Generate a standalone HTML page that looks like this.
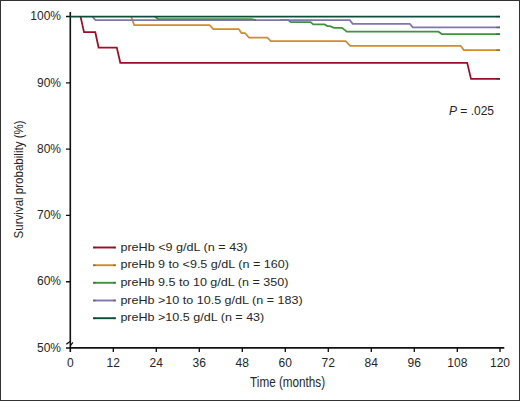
<!DOCTYPE html>
<html>
<head>
<meta charset="utf-8">
<style>
html,body{margin:0;padding:0;background:#fff;}
body{width:520px;height:401px;overflow:hidden;}
svg{display:block;}
text{font-family:"Liberation Sans",sans-serif;fill:#262626;}
</style>
</head>
<body>
<svg width="520" height="401" viewBox="0 0 520 401">
<rect x="0" y="0" width="520" height="401" fill="#fff"/>
<rect x="0.5" y="0.5" width="519" height="400" fill="none" stroke="#333" stroke-width="1"/>

<!-- axes -->
<g stroke="#111" stroke-width="1.6" fill="none">
<path d="M70.3,12 V352"/>
<path d="M69.5,347.9 H504.3"/>
</g>
<g stroke="#111" stroke-width="1.35" fill="none">
<path d="M66,16.5 H70 M66,82.8 H70 M66,149.1 H70 M66,215.4 H70 M66,281.7 H70 M66,348 H70"/>
<path d="M113.3,348 V352 M156.3,348 V352 M199.3,348 V352 M242.3,348 V352 M285.3,348 V352 M328.3,348 V352 M371.3,348 V352 M414.3,348 V352 M457.3,348 V352 M500,348 V352"/>
<path d="M66.3,344.3 L70,341.5 M70.4,345.6 L72.9,342.4" stroke-width="1.3"/>
</g>

<!-- y labels -->
<g font-size="12" text-anchor="end">
<text x="61" y="20.3">100%</text>
<text x="61" y="86.5">90%</text>
<text x="61" y="152.8">80%</text>
<text x="61" y="219.1">70%</text>
<text x="61" y="285.4">60%</text>
<text x="61" y="351.7">50%</text>
</g>
<!-- x labels -->
<g font-size="12" text-anchor="middle">
<text x="70.3" y="367.4">0</text>
<text x="113.3" y="367.4">12</text>
<text x="156.3" y="367.4">24</text>
<text x="199.3" y="367.4">36</text>
<text x="242.3" y="367.4">48</text>
<text x="285.3" y="367.4">60</text>
<text x="328.3" y="367.4">72</text>
<text x="371.3" y="367.4">84</text>
<text x="414.3" y="367.4">96</text>
<text x="457.3" y="367.4">108</text>
<text x="500" y="367.4">120</text>
</g>
<text x="287.6" y="386.8" font-size="13.8" text-anchor="middle" textLength="75" lengthAdjust="spacingAndGlyphs">Time (months)</text>
<text transform="translate(22.7,179.4) rotate(-90)" font-size="13.5" text-anchor="middle" textLength="118" lengthAdjust="spacingAndGlyphs">Survival probability (%)</text>

<text x="449" y="115" font-size="12"><tspan font-style="italic">P</tspan> = .025</text>

<!-- curves -->
<g fill="none" stroke-width="1.75" stroke-linejoin="miter">
<path stroke="#9C0E28" d="M80.6,16.7 L84,32.2 H95.3 L98.6,47.5 H116.8 L120.3,62.8 H467.2 L471,78.9 H500"/>
<path stroke="#D28C26" d="M131.2,16.7 L134.2,25 H209.5 L213.3,29.1 H238.7 L241.5,33 H245 L249,37.5 H267.3 L270.8,41.2 H345.6 L350.3,45.8 H460.6 L463.8,50 H500"/>
<path stroke="#3E943E" d="M280,20.2 H288.5 L291,22.2 H310.6 L313.2,24.4 H324.5 L327.5,26.1 H330 L334,27.9 H342 L346.8,31.7 H438.4 L441.8,34 H500"/>
<path stroke="#8076AC" d="M92.4,16.7 L95.5,20.1 H349.8 L352.7,23.9 H409.8 L412.9,27.4 H500"/>
<path stroke="#3E943E" d="M155,16.7 L158.3,19.0 H252 L255,20.1 H256"/>
<path stroke="#0C4E3A" d="M70,16.7 H500"/>
</g>
<g fill="none" stroke-width="1.75" stroke="#222" opacity="0.3">
<path d="M496.3,16.7 H500 M496.3,27.4 H500 M496.3,34 H500 M496.3,50 H500 M496.3,78.9 H500"/>
</g>

<!-- legend -->
<g stroke-width="1.9">
<path stroke="#9C0E28" d="M93.1,247.5 H115.8"/>
<path stroke="#D28C26" d="M93.1,265.2 H115.8"/>
<path stroke="#3E943E" d="M93.1,282.8 H115.8"/>
<path stroke="#8076AC" d="M93.1,300.5 H115.8"/>
<path stroke="#0C4E3A" d="M93.1,318.2 H115.8"/>
</g>
<g fill="none" stroke-width="1.9" stroke="#222" opacity="0.3">
<path d="M93.1,247.5 H95.5 M113.5,247.5 H115.8"/>
<path d="M93.1,265.2 H95.5 M113.5,265.2 H115.8"/>
<path d="M93.1,282.8 H95.5 M113.5,282.8 H115.8"/>
<path d="M93.1,300.5 H95.5 M113.5,300.5 H115.8"/>
<path d="M93.1,318.2 H95.5 M113.5,318.2 H115.8"/>
</g>
<g font-size="11.6">
<text x="120.4" y="250.6" textLength="127.0" lengthAdjust="spacingAndGlyphs">preHb &lt;9 g/dL (n = 43)</text>
<text x="120.4" y="268.3" textLength="168.6" lengthAdjust="spacingAndGlyphs">preHb 9 to &lt;9.5 g/dL (n = 160)</text>
<text x="120.4" y="285.9" textLength="168.0" lengthAdjust="spacingAndGlyphs">preHb 9.5 to 10 g/dL (n = 350)</text>
<text x="120.4" y="303.6" textLength="182.2" lengthAdjust="spacingAndGlyphs">preHb &gt;10 to 10.5 g/dL (n = 183)</text>
<text x="120.4" y="321.3" textLength="143.9" lengthAdjust="spacingAndGlyphs">preHb &gt;10.5 g/dL (n = 43)</text>
</g>
</svg>
</body>
</html>
